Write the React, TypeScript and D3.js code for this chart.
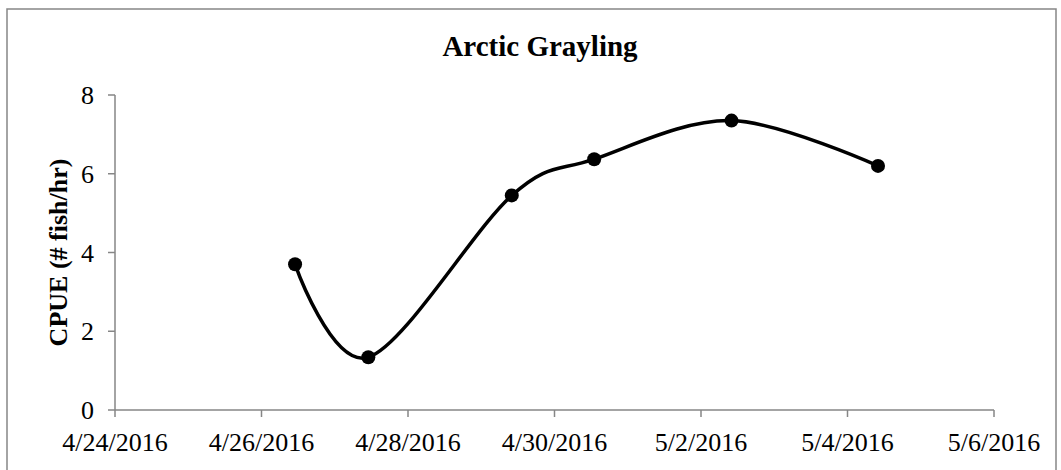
import React from "react";
import * as d3 from "d3";

const title = "Arctic Grayling";
const yLabel = "CPUE (# fish/hr)";
const sampleDates = [
  "2016-04-26T11:00",
  "2016-04-27T11:00",
  "2016-04-29T10:00",
  "2016-04-30T13:00",
  "2016-05-02T10:00",
  "2016-05-04T10:00",
];
const cpueValues = [3.7, 1.34, 5.45, 6.37, 7.35, 6.2];
const xTickDates = [
  "2016-04-24T00:00",
  "2016-04-26T00:00",
  "2016-04-28T00:00",
  "2016-04-30T00:00",
  "2016-05-02T00:00",
  "2016-05-04T00:00",
  "2016-05-06T00:00",
];
const yTicks = [0, 2, 4, 6, 8];

const W = 1061;
const H = 470;
const FONT = "'Liberation Serif', 'Times New Roman', serif";
const AXIS = "#868686";

export default function App() {
  const x = d3
    .scaleTime()
    .domain([new Date(xTickDates[0]), new Date(xTickDates[xTickDates.length - 1])])
    .range([115, 994]);
  const y = d3.scaleLinear().domain([0, 8]).range([410, 95]);
  const fmt = d3.timeFormat("%-m/%-d/%Y");

  const pts: [number, number][] = sampleDates.map((d, i) => [
    x(new Date(d)),
    y(cpueValues[i]),
  ]);
  const line = d3
    .line<[number, number]>()
    .x((d) => d[0])
    .y((d) => d[1])
    .curve(d3.curveCardinal.tension(0));

  const [x0, x1] = x.range();
  const [yb, yt] = y.range();

  return (
    <svg
      width={W}
      height={H}
      style={{ position: "absolute", left: 0, top: 0, background: "#fff" }}
    >
      <rect x={7} y={9} width={1049} height={480} fill="#fff" stroke={AXIS} strokeWidth={1.5} />
      <text
        x={540}
        y={56}
        textAnchor="middle"
        fontFamily={FONT}
        fontWeight="bold"
        fontSize={29}
        fill="#000"
      >
        {title}
      </text>
      {/* y axis */}
      <line x1={x0} x2={x0} y1={yt} y2={yb} stroke={AXIS} strokeWidth={1.5} />
      {yTicks.map((t) => (
        <g key={t}>
          <line x1={x0 - 7} x2={x0} y1={y(t)} y2={y(t)} stroke={AXIS} strokeWidth={1.5} />
          <text
            x={94}
            y={y(t)}
            dy="0.35em"
            textAnchor="end"
            fontFamily={FONT}
            fontSize={26}
            fill="#000"
          >
            {t}
          </text>
        </g>
      ))}
      {/* x axis */}
      <line x1={x0} x2={x1} y1={yb} y2={yb} stroke={AXIS} strokeWidth={1.5} />
      {xTickDates.map((d) => {
        const xv = x(new Date(d));
        return (
          <g key={d}>
            <line x1={xv} x2={xv} y1={yb} y2={yb + 7} stroke={AXIS} strokeWidth={1.5} />
            <text
              x={xv}
              y={451}
              textAnchor="middle"
              fontFamily={FONT}
              fontSize={26}
              fill="#000"
            >
              {fmt(new Date(d))}
            </text>
          </g>
        );
      })}
      <text
        transform={`translate(67, ${(yt + yb) / 2}) rotate(-90)`}
        textAnchor="middle"
        fontFamily={FONT}
        fontWeight="bold"
        fontSize={26}
        fill="#000"
      >
        {yLabel}
      </text>
      <path d={line(pts) || ""} fill="none" stroke="#000" strokeWidth={3.5} />
      {pts.map((p, i) => (
        <circle key={i} cx={p[0]} cy={p[1]} r={7} fill="#000" />
      ))}
    </svg>
  );
}
